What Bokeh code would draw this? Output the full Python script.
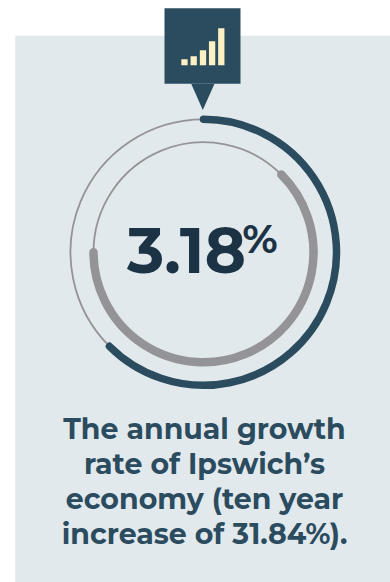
from bokeh.core.properties import value
from bokeh.embed import file_html
from bokeh.plotting import figure
from bokeh.resources import INLINE
from math import radians

W, H = 390, 582

# Ring spans, in degrees clockwise from the start angle
outer_start, outer_sweep = 90, 225
inner_start, inner_sweep = 45, 225
headline = "3.18"
headline_unit = "%"
caption = ["The annual growth", "rate of Ipswich\u2019s", "economy (ten year", "increase of 31.84%)."]
signal_levels = [6, 9, 15, 24, 37]

DARK = "#2b4c5e"
INK = "#1b3344"
GREY = "#949498"
PANEL = "#e2e9ed"
CREAM = "#fdf0c4"
FONT = value("Montserrat, Inter")
BASELINE_SHIFT = 0.36  # share of the font size the renderer drops alphabetic text by


def ypx(y):
    """Convert a distance from the top of the page to a y coordinate."""
    return H - y


def text_y(baseline, size):
    return ypx(baseline) + BASELINE_SHIFT * size


p = figure(width=W, height=H, x_range=(0, W), y_range=(0, H), output_backend="svg",
           toolbar_location=None, min_border=0, outline_line_color=None,
           background_fill_color="white", border_fill_color="white")
p.axis.visible = False
p.grid.visible = False

# Background panel
p.quad(left=[14.7], right=[W], top=[ypx(35.2)], bottom=[0], fill_color=PANEL, line_color=None)

# Rings: a hairline for the remainder, a heavy rounded stroke for the value
cx, cy = 203, ypx(251.8)
for r, start, sweep, color, width, hair in [
    (133, outer_start, outer_sweep, DARK, 7.5, 1.8),
    (110, inner_start, inner_sweep, GREY, 8.5, 1.8),
]:
    a0, a1 = radians(start), radians(start - sweep)
    p.arc([cx], [cy], radius=r, start_angle=a1, end_angle=a0, direction="clock",
          line_color=GREY, line_width=hair)
    p.arc([cx], [cy], radius=r, start_angle=a0, end_angle=a1, direction="clock",
          line_color=color, line_width=width, line_cap="round")

# Callout tag and its pointer
p.quad(left=[164], right=[240], top=[ypx(7.8)], bottom=[ypx(83.2)], fill_color=DARK, line_color=None)
p.patch([190.7, 214, 202.3], [ypx(83.2), ypx(83.2), ypx(109.5)], fill_color=DARK, line_color=None)

# Signal icon inside the tag
bar_x = [184, 193.2, 202.5, 211.6, 220.8]
p.vbar(x=bar_x, width=6.3, bottom=ypx(64.7), top=[ypx(64.7) + v for v in signal_levels],
       fill_color=CREAM, line_color=None)

# Headline value
p.text([126.5], [text_y(273, 63)], text=[headline], text_font=FONT, text_font_style="bold", text_font_size="63px",
       text_color=INK, text_align="left", text_baseline="alphabetic")
p.text([242], [text_y(252, 40)], text=[headline_unit], text_font=FONT, text_font_style="bold", text_font_size="40px",
       text_color=INK, text_align="left", text_baseline="alphabetic")

# Caption
p.text([204] * 4, [text_y(b, 28.4) for b in (438.5, 473.5, 508.5, 543.5)], text=caption, text_font=FONT,
       text_font_style="bold", text_font_size="28.4px", text_color=DARK,
       text_align="center", text_baseline="alphabetic")

open("out.html", "w").write(file_html(p, INLINE))
